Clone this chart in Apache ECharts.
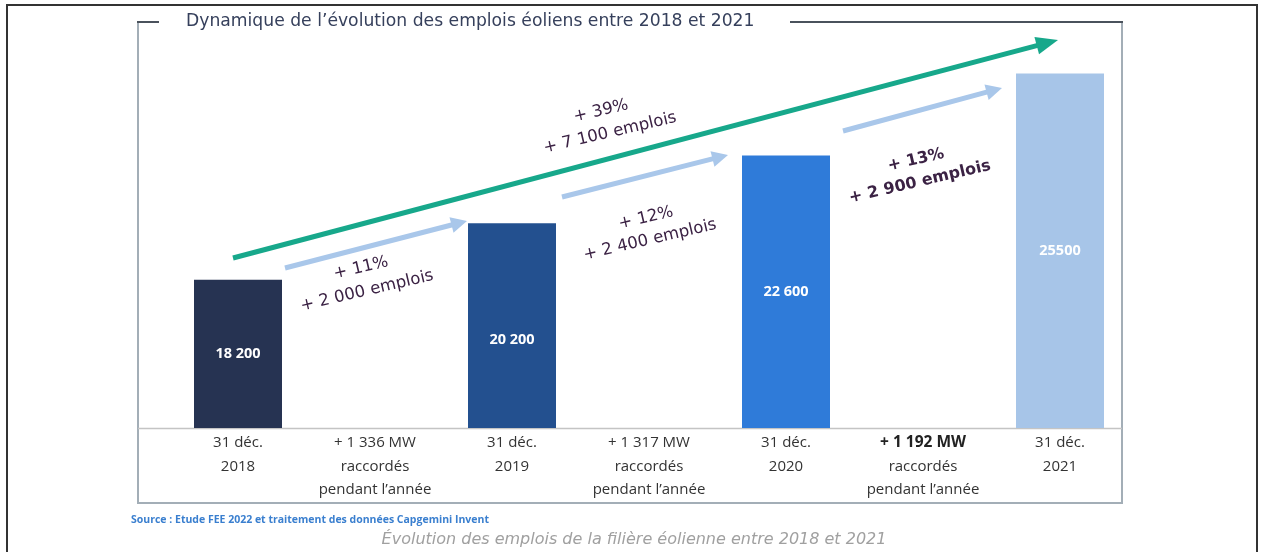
<!DOCTYPE html>
<html>
<head>
<meta charset="utf-8">
<script src="https://cdn.jsdelivr.net/npm/echarts@6/dist/echarts.min.js"></script>
<style>
html,body{margin:0;padding:0;background:#fff;}
#chart{width:1262px;height:552px;}
</style>
</head>
<body>
<div id="chart"></div>
<script>
// ---- data ----
var categories = ['31 déc.\n2018', '+ 1 336 MW\nraccordés\npendant l\u2019année', '31 déc.\n2019', '+ 1 317 MW\nraccordés\npendant l\u2019année', '31 déc.\n2020', '+ 1 192 MW\nraccordés\npendant l\u2019année', '31 déc.\n2021'];
var emplois = [18200, null, 20200, null, 22600, null, 25500];
var barLabels = ['18 200', '', '20 200', '', '22 600', '', '25500'];
var barColors = ['#263352', null, '#23508f', null, '#2f7bd9', null, '#a7c5e8'];
var growthPct = ['+ 11%', '+ 12%', '+ 13%', '+ 39%'];
var growthJobs = ['+ 2 000 emplois', '+ 2 400 emplois', '+ 2 900 emplois', '+ 7 100 emplois'];
var titleText = 'Dynamique de l\u2019évolution des emplois éoliens entre 2018 et 2021';
var sourceText = 'Source : Etude FEE 2022 et traitement des données Capgemini Invent';
var captionText = 'Évolution des emplois de la filière éolienne entre 2018 et 2021';

var FONT = '"Open Sans", "Noto Sans", sans-serif';
var WIDE = '"DejaVu Sans", sans-serif';
var chart = echarts.init(document.getElementById('chart'));

function arrow(x1, y1, x2, y2, color, w, hl, hw) {
  var dx = x2 - x1, dy = y2 - y1, L = Math.sqrt(dx*dx + dy*dy);
  var ux = dx / L, uy = dy / L, px = -uy, py = ux;
  var bx = x2 - ux * hl, by = y2 - uy * hl;
  return [
    {type: 'line', silent: true, shape: {x1: x1, y1: y1, x2: bx + ux*2, y2: by + uy*2}, style: {stroke: color, lineWidth: w}},
    {type: 'polygon', silent: true, shape: {points: [[x2, y2], [bx + px*hw, by + py*hw], [bx - px*hw, by - py*hw]]}, style: {fill: color}}
  ];
}
function note(x, y, txt, bold, rot) {
  return {type: 'text', silent: true, x: x, y: y, rotation: rot,
    style: {text: txt, fill: '#3b2244', font: (bold ? 'bold ' : '') + (bold ? '16px ' : '16.5px ') + WIDE, align: 'center', verticalAlign: 'middle'}};
}

var rot = 0.23;
var light = '#a9c7ea';
var graphics = [
  // outer frame
  {type: 'rect', silent: true, shape: {x: 7, y: 5, width: 1250, height: 600}, style: {fill: 'none', stroke: '#333', lineWidth: 2}},
  // inner panel
  {type: 'polyline', silent: true, shape: {points: [[138, 22], [138, 503], [1122, 503], [1122, 22]]}, style: {fill: 'none', stroke: '#a3aeb7', lineWidth: 2}},
  {type: 'line', silent: true, shape: {x1: 137, y1: 22, x2: 159, y2: 22}, style: {stroke: '#4a525c', lineWidth: 2}},
  {type: 'line', silent: true, shape: {x1: 790, y1: 22, x2: 1123, y2: 22}, style: {stroke: '#4a525c', lineWidth: 2}},
  // baseline
  {type: 'line', silent: true, shape: {x1: 138, y1: 428.5, x2: 1122, y2: 428.5}, style: {stroke: '#c4c4c4', lineWidth: 1.5}},
  // title
  {type: 'text', silent: true, x: 186, y: 22, style: {text: titleText, fill: '#36405c', font: '17.2px ' + WIDE, verticalAlign: 'middle'}},
  // source and caption
  {type: 'text', silent: true, x: 131, y: 520, style: {text: sourceText, fill: '#3a7fcf', font: 'bold 10.5px ' + FONT, verticalAlign: 'middle'}},
  {type: 'text', silent: true, x: 634, y: 540, style: {text: captionText, fill: '#a0a0a0', font: 'italic 16px ' + WIDE, align: 'center', verticalAlign: 'middle'}}
];
graphics = graphics
  .concat(arrow(233, 258, 1058, 40, '#17a88b', 5, 22, 9))
  .concat(arrow(285, 268, 467, 221, light, 5, 16, 8))
  .concat(arrow(562, 197, 728, 155, light, 5, 16, 8))
  .concat(arrow(843, 131, 1002, 88, light, 5, 16, 8))
  .concat([
    note(361, 268, growthPct[0], false, rot), note(367, 291, growthJobs[0], false, rot),
    note(646, 218, growthPct[1], false, rot), note(650, 240, growthJobs[1], false, rot),
    note(916, 160, growthPct[2], true, rot), note(920, 182, growthJobs[2], true, rot),
    note(601, 111, growthPct[3], false, rot), note(610, 133, growthJobs[3], false, rot)
  ]);

var seriesData = emplois.map(function (v, i) {
  if (v === null) return null;
  var item = {value: v, itemStyle: {color: barColors[i]}};
  if (i === 2) item.label = {offset: [0, 14]};
  return item;
});

chart.setOption({
  animation: false,
  backgroundColor: '#fff',
  grid: {left: 169.5, right: 133.5, top: 59.4, bottom: 124},
  xAxis: {
    type: 'category', data: categories,
    axisLine: {show: false}, axisTick: {show: false},
    axisLabel: {
      interval: 0, margin: 3, color: '#333', fontFamily: FONT, fontSize: 15, lineHeight: 23.5,
      formatter: function (val, idx) {
        if (idx === 5) {
          var parts = val.split('\n');
          return '{b|' + parts[0] + '}\n' + parts.slice(1).join('\n');
        }
        return val;
      },
      rich: {b: {fontWeight: 'bold', fontSize: 15.5, fontFamily: FONT, color: '#222', lineHeight: 23.5}}
    }
  },
  yAxis: {type: 'value', min: 12950, max: 26000, show: false, splitLine: {show: false}},
  series: [{
    type: 'bar', data: seriesData, barWidth: 88,
    label: {
      show: true, position: 'inside', color: '#fff', fontFamily: FONT, fontWeight: 'bold', fontSize: 14.5,
      formatter: function (p) { return barLabels[p.dataIndex]; }
    }
  }],
  graphic: graphics
});
</script>
</body>
</html>
